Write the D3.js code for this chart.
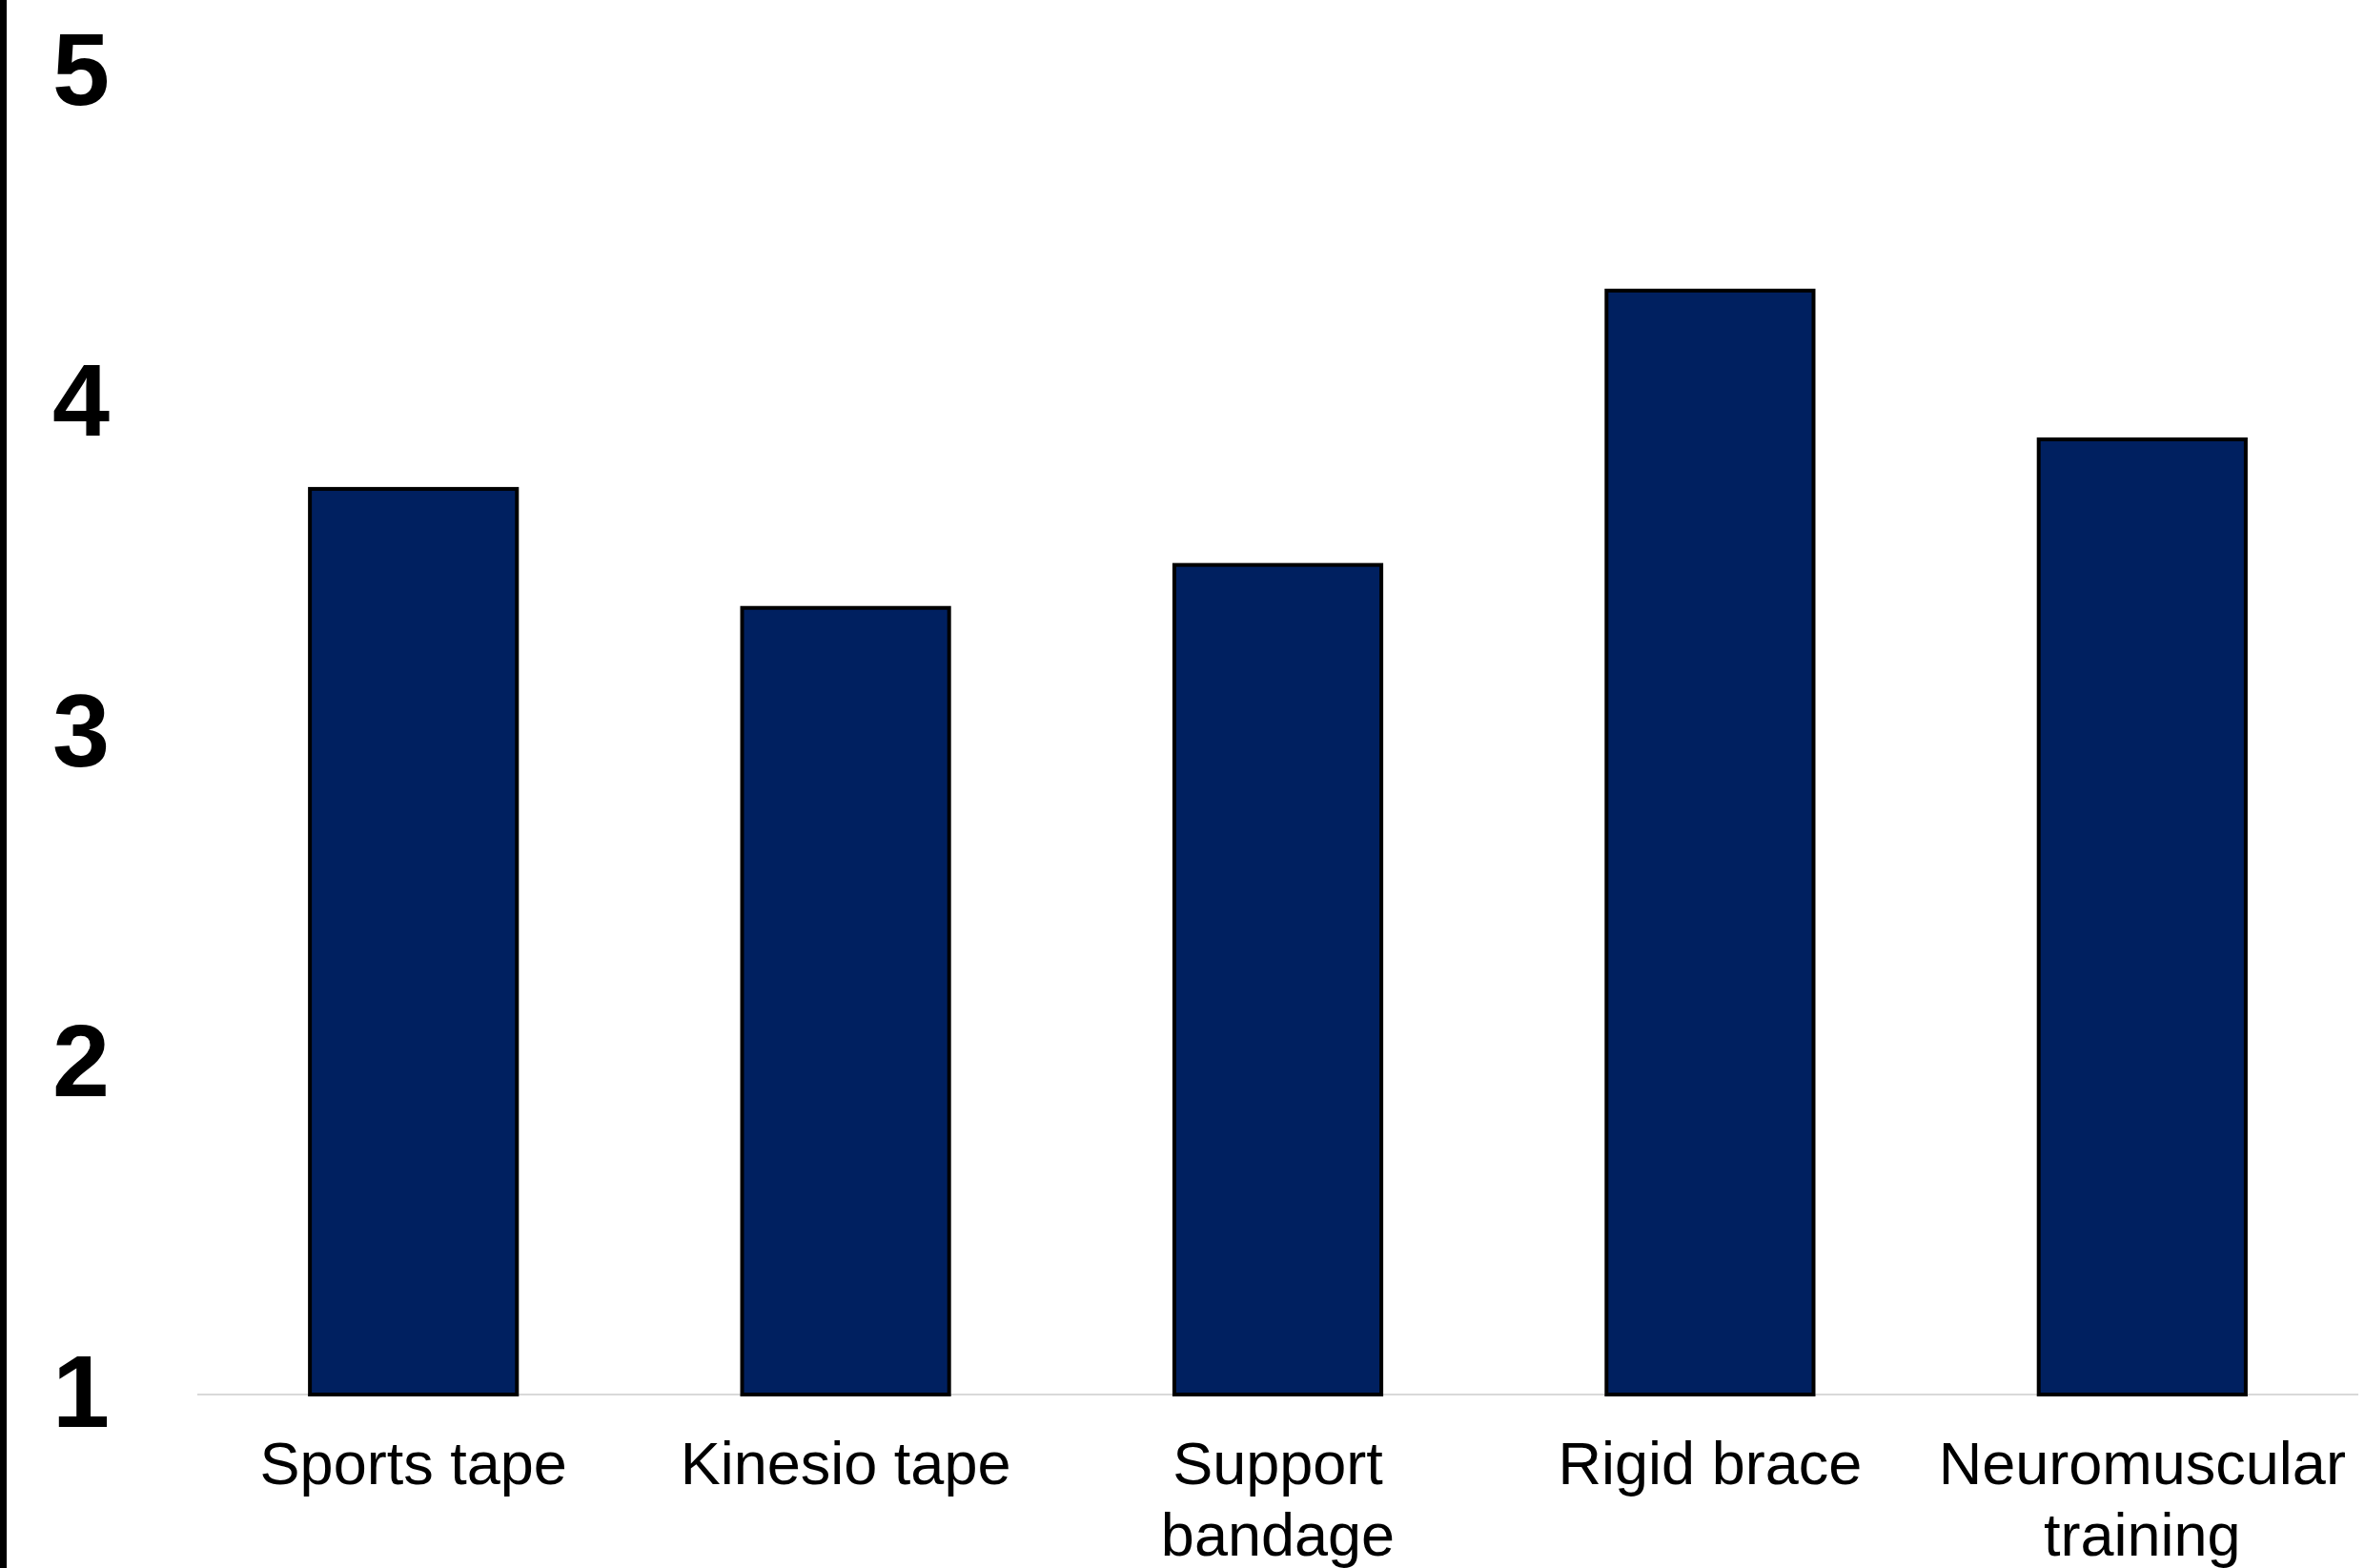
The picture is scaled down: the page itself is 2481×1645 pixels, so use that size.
<!DOCTYPE html>
<html>
<head>
<meta charset="utf-8">
<script src="https://cdn.jsdelivr.net/npm/d3@7"></script>
<style>
  body { margin: 0; background: #fff; }
  svg { display: block; }
</style>
</head>
<body>
<div id="chart"></div>
<script>
const categories = ["Sports tape", "Kinesio tape", "Support bandage", "Rigid brace", "Neuromuscular training"];
const labelLines = [["Sports tape"], ["Kinesio tape"], ["Support", "bandage"], ["Rigid brace"], ["Neuromuscular", "training"]];
const values = [3.74, 3.38, 3.51, 4.34, 3.89];
const yTicks = [1, 2, 3, 4, 5];

const W = 2481, H = 1645;

const svg = d3.select("#chart")
  .append("svg")
    .attr("width", W)
    .attr("height", H);

const x = d3.scaleBand()
    .domain(categories)
    .range([207, 2474])
    .paddingInner(0.521)
    .paddingOuter(0.2605);

const y = d3.scaleLinear()
    .domain([1, 5])
    .range([1463, 76]);

// left border line
svg.append("line")
    .attr("x1", 3.5).attr("x2", 3.5)
    .attr("y1", 0).attr("y2", H)
    .attr("stroke", "#000")
    .attr("stroke-width", 7);

// y tick labels
svg.append("g")
  .selectAll("text")
  .data(yTicks)
  .join("text")
    .attr("x", 85)
    .attr("y", d => y(d) + 34)
    .attr("text-anchor", "middle")
    .style("font-family", "Liberation Sans, Arial, sans-serif")
    .style("font-weight", "bold")
    .style("font-size", "108px")
    .text(d => d);

// baseline
svg.append("line")
    .attr("x1", x.range()[0]).attr("x2", x.range()[1])
    .attr("y1", y(1)).attr("y2", y(1))
    .attr("stroke", "#d9d9d9")
    .attr("stroke-width", 2);

// bars
svg.append("g")
  .selectAll("rect")
  .data(values)
  .join("rect")
    .attr("x", (d, i) => x(categories[i]))
    .attr("y", d => y(d))
    .attr("width", x.bandwidth())
    .attr("height", d => y(1) - y(d))
    .attr("fill", "#002060")
    .attr("stroke", "#000")
    .attr("stroke-width", 4);

// category labels
const lab = svg.append("g")
  .selectAll("text")
  .data(categories)
  .join("text")
    .attr("x", d => x(d) + x.bandwidth() / 2)
    .attr("y", y(1) + 94)
    .attr("text-anchor", "middle")
    .style("font-family", "Liberation Sans, Arial, sans-serif")
    .style("font-size", "63px")
    .style("fill", "#000");

lab.selectAll("tspan")
  .data((d, i) => labelLines[i])
  .join("tspan")
    .attr("x", function() { return d3.select(this.parentNode).attr("x"); })
    .attr("dy", (d, j) => j === 0 ? 0 : 75)
    .text(d => d);
</script>
</body>
</html>
